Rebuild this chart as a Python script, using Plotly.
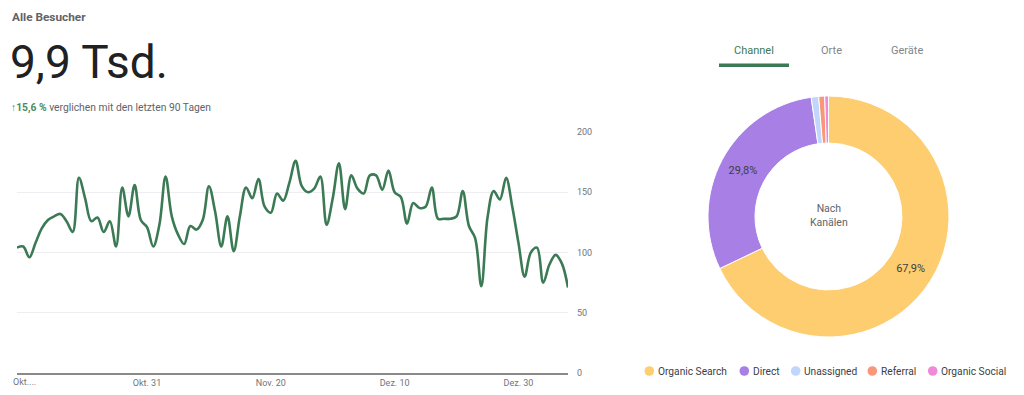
import pandas as pd
import plotly.graph_objects as go

# ---------------- data ----------------
start_date = "2023-10-10"
visitors = [104, 105, 96, 108, 120, 127, 130, 132, 126, 117,
            162, 145, 126, 129, 117, 126, 105, 154, 130, 156,
            127, 121, 105, 123, 163, 130, 115, 107, 122, 119,
            127, 155, 134, 105, 130, 101, 130, 154, 145, 161,
            138, 133, 149, 143, 158, 176, 155, 150, 153, 163,
            123, 145, 174, 136, 164, 153, 149, 164, 164, 152,
            168, 150, 146, 124, 141, 137, 138, 154, 128, 128,
            128, 130, 151, 122, 112, 72, 129, 151, 144, 162,
            138, 108, 80, 100, 104, 75, 90, 98, 91, 71]
dates = pd.date_range(start_date, periods=len(visitors), freq="D")

x_tick_dates = ["2023-10-10", "2023-10-31", "2023-11-20", "2023-12-10", "2023-12-30"]
x_tick_labels = ["Okt....", "Okt. 31", "Nov. 20", "Dez. 10", "Dez. 30"]
y_ticks = [0, 50, 100, 150, 200]

channels = ["Organic Search", "Direct", "Unassigned", "Referral", "Organic Social"]
channel_share = [67.9, 29.8, 1.0, 0.8, 0.5]
channel_colors = ["#fdcd6f", "#a77fe5", "#c0d6fb", "#f9977a", "#ef8ad9"]
channel_labels = ["67,9%", "29,8%", "", "", ""]

tabs = ["Channel", "Orte", "Geräte"]

W, H = 1024, 395
OFF = 8  # page body margin
def px(x):
    return (x - OFF) / W
def py(y):
    return 1 - (y - OFF) / H

GREEN = "#3b7a55"
GRAY = "#5f6368"
TICKGRAY = "#70757a"
FONT = "Roboto"

fig = go.Figure()

fig.add_trace(go.Scatter(
    x=dates, y=visitors, mode="lines",
    line=dict(color=GREEN, width=2.6, shape="spline", smoothing=1.0),
    showlegend=False, hoverinfo="x+y",
))

fig.add_trace(go.Pie(
    labels=channels, values=channel_share, text=channel_labels,
    textinfo="text", textposition="inside", insidetextorientation="horizontal",
    textfont=dict(family=FONT, size=11, color="#3c4043"),
    marker=dict(colors=channel_colors, line=dict(color="white", width=1)),
    hole=0.61, sort=False, direction="clockwise", rotation=0,
    domain=dict(x=[px(708), px(949)], y=[py(337), py(96)]),
    showlegend=False,
))

fig.update_layout(
    width=W, height=H,
    margin=dict(l=0, r=0, t=0, b=0, pad=0, autoexpand=False),
    paper_bgcolor="white", plot_bgcolor="white",
    font=dict(family=FONT, color=GRAY),
    showlegend=False,
    xaxis=dict(
        domain=[px(17), px(568)], automargin=False,
        range=[dates[0], dates[-1]],
        # first label is drawn left-aligned below (it would be clipped when centred)
        tickvals=pd.to_datetime(x_tick_dates[1:]), ticktext=x_tick_labels[1:],
        tickfont=dict(size=9, color=TICKGRAY),
        showgrid=False, showline=True, linecolor="#8a8a8a", linewidth=1.5,
        ticks="", zeroline=False,
    ),
    yaxis=dict(
        domain=[py(373), py(132)], automargin=False,
        range=[0, 200], side="right",
        tickvals=y_ticks, tickfont=dict(size=9, color=TICKGRAY),
        showgrid=True, gridcolor="#eeeef2", gridwidth=1,
        zeroline=False, showline=False, ticks="", ticklabelstandoff=8,
    ),
)

ann = []
def add_text(x, y, text, size, color, anchor="left"):
    ann.append(dict(x=px(x), y=py(y), xref="paper", yref="paper", text=text,
                    showarrow=False, xanchor=anchor, yanchor="middle",
                    font=dict(size=size, color=color, family=FONT)))

# first x tick label, left aligned at the axis start
ann.append(dict(x=pd.to_datetime(x_tick_dates[0]), xref="x", xshift=-6,
                y=py(382), yref="paper", text=x_tick_labels[0], showarrow=False,
                xanchor="left", yanchor="middle",
                font=dict(size=9, color=TICKGRAY, family=FONT)))

add_text(10, 17, "<b>Alle Besucher</b>", 11.8, GRAY)
add_text(8, 62, "9,9 Tsd.", 46, "#202124")
add_text(9, 107, "<span style='color:#4c8c5e'><b>↑15,6 %</b></span> verglichen mit den letzten 90 Tagen", 10.3, GRAY)
add_text(828.5, 215, "Nach<br>Kanälen", 10.5, GRAY, "center")

tab_x = [754, 831, 907]
for i, t in enumerate(tabs):
    add_text(tab_x[i], 50, t, 11, GREEN if i == 0 else "#80868b", "center")

shapes = [dict(type="rect", xref="paper", yref="paper",
               x0=px(719), x1=px(789), y0=py(67), y1=py(63.5),
               fillcolor=GREEN, line=dict(width=0))]

leg_circle_x = [649.3, 744.3, 795.7, 872.3, 932.7]
leg_y = 371
for cx, name, col in zip(leg_circle_x, channels, channel_colors):
    shapes.append(dict(type="circle", xref="paper", yref="paper",
                       x0=px(cx - 4.8), x1=px(cx + 4.8), y0=py(leg_y + 4.8), y1=py(leg_y - 4.8),
                       fillcolor=col, line=dict(width=0)))
    add_text(cx + 6.5, leg_y, name, 10.2, "#3c4043")

fig.update_layout(annotations=ann, shapes=shapes)

fig.write_html("out.html")
